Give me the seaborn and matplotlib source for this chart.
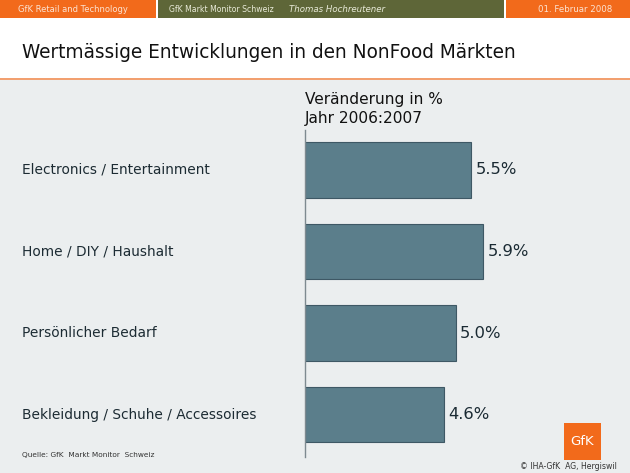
import matplotlib
matplotlib.use("Agg")
import matplotlib.pyplot as plt
import seaborn as sns
import pandas as pd
from matplotlib.patches import Rectangle
from matplotlib.transforms import blended_transform_factory

categories = ["Electronics / Entertainment", "Home / DIY / Haushalt",
              "Persönlicher Bedarf", "Bekleidung / Schuhe / Accessoires"]
values = [5.5, 5.9, 5.0, 4.6]
title = "Wertmässige Entwicklungen in den NonFood Märkten"
header = "Veränderung in %\nJahr 2006:2007"

df = pd.DataFrame({"cat": categories, "val": values})

sns.set_theme(style="white")
plt.rcParams['font.family'] = ['DejaVu Sans']

W, H = 630, 473
fig = plt.figure(figsize=(6.3, 4.73), dpi=100)
fig.patch.set_facecolor("#EBEEEF")

def px(x, y):
    return x / W, 1 - y / H

ORANGE = "#F26A1B"
OLIVE = "#5E6638"

# white top area
fig.add_artist(Rectangle((0, 1 - 79 / H), 1, 79 / H, transform=fig.transFigure,
                         facecolor="white", edgecolor="none", zorder=0))
# banner
fig.add_artist(Rectangle((0, 1 - 18 / H), 156 / W, 18 / H, transform=fig.transFigure,
                         facecolor=ORANGE, edgecolor="none", zorder=1))
fig.add_artist(Rectangle((157.5 / W, 1 - 18 / H), (504 - 157.5) / W, 18 / H, transform=fig.transFigure,
                         facecolor=OLIVE, edgecolor="none", zorder=1))
fig.add_artist(Rectangle((505.5 / W, 1 - 18 / H), (W - 505.5) / W, 18 / H, transform=fig.transFigure,
                         facecolor=ORANGE, edgecolor="none", zorder=1))
# orange rule under title
fig.add_artist(Rectangle((0, 1 - 80 / H), 1, 1.6 / H, transform=fig.transFigure,
                         facecolor="#F2A070", edgecolor="none", zorder=1))

fig.text(*px(18, 9.5), "GfK Retail and Technology", fontsize=6.0, color="#FCE3D2",
         ha="left", va="center")
fig.text(*px(169, 9.5), "GfK Markt Monitor Schweiz", fontsize=5.6, color="#E8EAD8",
         ha="left", va="center")
fig.text(*px(289, 9.5), "Thomas Hochreutener", fontsize=6.2, color="#E8EAD8",
         ha="left", va="center", style="italic")
fig.text(*px(612, 9.5), "01. Februar 2008", fontsize=6.2, color="#FCE3D2",
         ha="right", va="center")

fig.text(*px(22, 52), title, fontsize=13.35, color="#111111", ha="left", va="center")

# chart axes
left, top, bottom = 305, 130, 457
ax = fig.add_axes([left / W, 1 - bottom / H, (W - left) / W, (bottom - top) / H])
ax.set_facecolor("none")
sns.barplot(data=df, y="cat", x="val", orient="h", color="#5B7E8B", width=0.68,
            edgecolor="#3E5865", linewidth=0.8, saturation=1, ax=ax)
ax.set_xlim(0, (W - left) / 30.2)
ax.set_ylim(3.52, -0.49)
ax.set_xlabel("")
ax.set_ylabel("")
ax.set_xticks([])
ax.set_yticks([])
for s in ["top", "right", "bottom"]:
    ax.spines[s].set_visible(False)
ax.spines["left"].set_color("#7E8A90")
ax.spines["left"].set_linewidth(1.0)

for c in ax.containers:
    ax.bar_label(c, labels=[f"{v:.1f}%" for v in values], padding=3,
                 fontsize=11.8, color="#1A2A33")

trans = blended_transform_factory(fig.transFigure, ax.transData)
for i, cat in enumerate(categories):
    ax.text(22 / W, i, cat, transform=trans, fontsize=9.9, color="#1C2B33",
            ha="left", va="center")

fig.text(*px(305, 109), header, fontsize=11.1, color="#111111", ha="left",
         va="center", linespacing=1.4)

fig.text(*px(22, 455), "Quelle: GfK  Markt Monitor  Schweiz", fontsize=5.3,
         color="#333333", ha="left", va="center")

# logo
fig.add_artist(Rectangle((564 / W, 1 - 460 / H), 37 / W, 37 / H, transform=fig.transFigure,
                         facecolor=ORANGE, edgecolor="none", zorder=2))
fig.text(*px(582.5, 441), "GfK", fontsize=9.5, color="white", ha="center", va="center",
         zorder=3)
fig.text(*px(617, 466), "© IHA-GfK  AG, Hergiswil", fontsize=5.6, color="#333333",
         ha="right", va="center")

fig.savefig("out.png", dpi=100, facecolor=fig.get_facecolor())
